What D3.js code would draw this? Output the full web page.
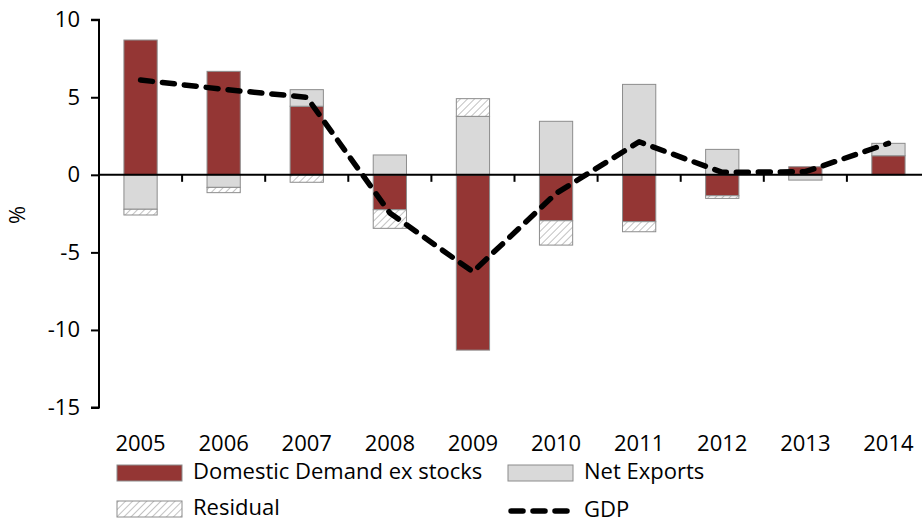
<!DOCTYPE html>
<html>
<head>
<meta charset="utf-8">
<script src="https://cdn.jsdelivr.net/npm/d3@7"></script>
<style>
  body { margin: 0; background: #fff; }
  text { font-family: "Open Sans", sans-serif; fill: #000; }
</style>
</head>
<body>
<div id="chart"></div>
<script>
// data
var years = ["2005", "2006", "2007", "2008", "2009", "2010", "2011", "2012", "2013", "2014"];
var domestic = [8.69, 6.67, 4.42, -2.25, -11.3, -2.96, -3.02, -1.35, 0.52, 1.23];
var netExports = [-2.22, -0.81, 1.07, 1.28, 3.77, 3.45, 5.83, 1.64, -0.34, 0.80];
var residual = [-0.37, -0.34, -0.48, -1.20, 1.14, -1.57, -0.65, -0.17, 0, 0];
var gdp = [6.11, 5.51, 5.0, -2.46, -6.25, -1.2, 2.13, 0.16, 0.2, 2.03];
var yTicks = [10, 5, 0, -5, -10, -15];

var width = 922, height = 522;

var svg = d3.select("#chart").append("svg")
    .attr("width", width)
    .attr("height", height);

// hatch for the residual
var defs = svg.append("defs");
var hatch = defs.append("pattern")
    .attr("id", "hatch")
    .attr("patternUnits", "userSpaceOnUse")
    .attr("width", 5)
    .attr("height", 5)
    .attr("patternTransform", "rotate(45)");
hatch.append("rect").attr("width", 5).attr("height", 5).attr("fill", "#fff");
hatch.append("line")
    .attr("x1", 0).attr("y1", 0).attr("x2", 0).attr("y2", 5)
    .attr("stroke", "#999").attr("stroke-width", 1.2);

var x = d3.scaleBand()
    .domain(years)
    .range([99, 930])
    .paddingInner(0.6)
    .paddingOuter(0.3);

var y = d3.scaleLinear()
    .domain([-15, 10])
    .range([407.5, 19.7]);

var rows = years.map(function(yr, i) {
  return { year: yr, dd: domestic[i], ne: netExports[i], res: residual[i] };
});

var keys = ["dd", "ne", "res"];
var fills = { dd: "#943634", ne: "#d9d9d9", res: "url(#hatch)" };

var stack = d3.stack()
    .keys(keys)
    .offset(d3.stackOffsetDiverging);

var series = stack(rows);

svg.append("g")
  .selectAll("g")
  .data(series)
  .enter().append("g")
    .attr("fill", function(d) { return fills[d.key]; })
  .selectAll("rect")
  .data(function(d) { return d; })
  .enter().append("rect")
    .attr("x", function(d) { return x(d.data.year); })
    .attr("width", x.bandwidth())
    .attr("y", function(d) { return y(Math.max(d[0], d[1])); })
    .attr("height", function(d) { return Math.abs(y(d[0]) - y(d[1])); })
    .attr("stroke", function(d) { return d[0] === d[1] ? "none" : "#8c8c8c"; })
    .attr("stroke-width", 1);

// y axis (plain hyphen for negatives, like the original)
var yAxis = d3.axisLeft(y)
    .tickValues(yTicks)
    .tickFormat(function(d) { return String(d); })
    .tickSize(8)
    .tickPadding(10);

var yG = svg.append("g")
    .attr("transform", "translate(99,0)")
    .call(yAxis);
yG.select(".domain").attr("stroke-width", 2).attr("d", "M-8," + y(10) + "H0V" + y(-15) + "H-8");
yG.selectAll(".tick line").attr("stroke-width", 2);
yG.selectAll(".tick text")
    .style("font-family", "'Open Sans', sans-serif")
    .style("font-size", "22px")
    .attr("x", -19);

// zero line with category ticks
var xAxis = d3.axisBottom(x).tickSize(0).tickFormat("");
var xG = svg.append("g")
    .attr("transform", "translate(0," + y(0) + ")")
    .call(xAxis);
xG.select(".domain").attr("stroke-width", 2).attr("d", "M99,0H930");

var step = x.step();
var bounds = years.slice(1).map(function(yr) { return x(yr) - x.paddingInner() * step / 2; });
svg.append("g").selectAll("line")
  .data(bounds.concat([x("2014") + x.bandwidth() + x.paddingInner() * step / 2]))
  .enter().append("line")
    .attr("x1", function(d) { return d; })
    .attr("x2", function(d) { return d; })
    .attr("y1", y(0))
    .attr("y2", y(0) + 7)
    .attr("stroke", "#000")
    .attr("stroke-width", 2);

// year labels
svg.append("g").selectAll("text")
  .data(years)
  .enter().append("text")
    .attr("x", function(d) { return x(d) + x.bandwidth() / 2; })
    .attr("y", 450.5)
    .attr("text-anchor", "middle")
    .style("font-size", "22px")
    .text(function(d) { return d; });

// GDP line
var line = d3.line()
    .x(function(d, i) { return x(years[i]) + x.bandwidth() / 2; })
    .y(function(d) { return y(d); });

svg.append("path")
    .datum(gdp)
    .attr("d", line)
    .attr("fill", "none")
    .attr("stroke", "#000")
    .attr("stroke-width", 5.5)
    .attr("stroke-linecap", "round")
    .attr("stroke-linejoin", "round")
    .attr("stroke-dasharray", "12,10");

// y label
svg.append("text")
    .attr("transform", "translate(25,215) rotate(-90)")
    .attr("text-anchor", "middle")
    .style("font-size", "22px")
    .text("%");

// legend
var legend = [
  { label: "Domestic Demand ex stocks", type: "rect", fill: fills.dd, x: 117, y: 473 },
  { label: "Net Exports", type: "rect", fill: fills.ne, x: 508, y: 473 },
  { label: "Residual", type: "rect", fill: fills.res, x: 117, y: 509 },
  { label: "GDP", type: "line", x: 508, y: 511 }
];

var lg = svg.append("g").selectAll("g")
  .data(legend)
  .enter().append("g")
    .attr("transform", function(d) { return "translate(" + d.x + "," + d.y + ")"; });

lg.filter(function(d) { return d.type === "rect"; })
  .append("rect")
    .attr("x", 0).attr("y", -8)
    .attr("width", 65).attr("height", 16)
    .attr("fill", function(d) { return d.fill; })
    .attr("stroke", "#8c8c8c");

lg.filter(function(d) { return d.type === "line"; })
  .append("line")
    .attr("x1", 3).attr("x2", 63)
    .attr("y1", 0).attr("y2", 0)
    .attr("stroke", "#000")
    .attr("stroke-width", 5.5)
    .attr("stroke-linecap", "round")
    .attr("stroke-dasharray", "12,10");

lg.append("text")
    .attr("x", 76)
    .attr("y", 6)
    .style("font-size", "22px")
    .text(function(d) { return d.label; });
</script>
</body>
</html>
